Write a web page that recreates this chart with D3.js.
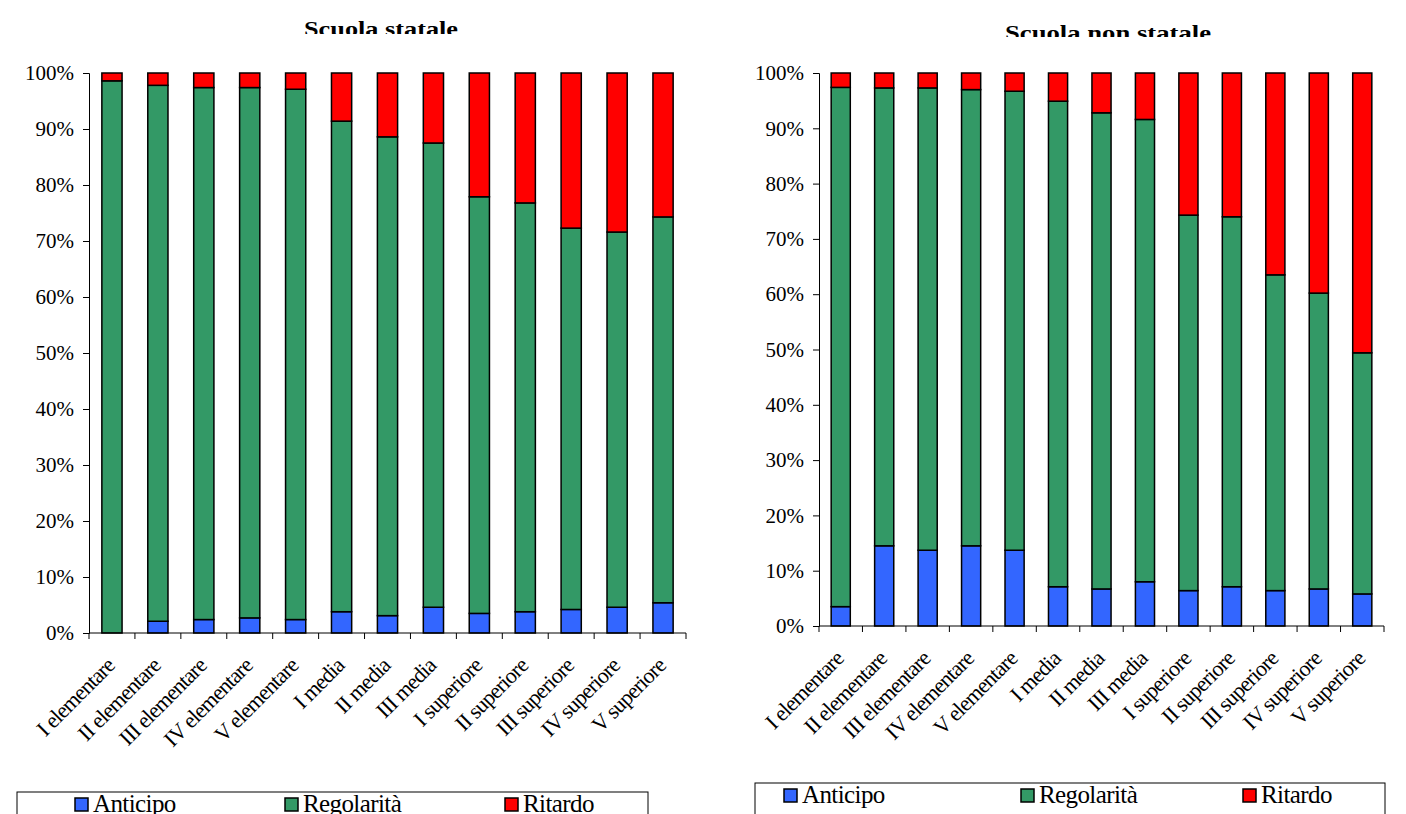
<!DOCTYPE html>
<html><head><meta charset="utf-8">
<script src="https://cdn.jsdelivr.net/npm/d3@7"></script>
<style>
body{margin:0;background:#fff;}
text{font-family:"Liberation Serif","DejaVu Serif",serif;fill:#000;}
</style></head>
<body><svg id="c" width="1406" height="814"></svg>
<script>
const categories = ["I elementare","II elementare","III elementare","IV elementare","V elementare","I media","II media","III media","I superiore","II superiore","III superiore","IV superiore","V superiore"];
const seriesNames = ["Anticipo","Regolarità","Ritardo"];
// Scuola statale
const statAnticipo = [0, 2.1, 2.4, 2.7, 2.4, 3.8, 3.1, 4.6, 3.5, 3.8, 4.2, 4.6, 5.4];
const statRegolaritaTop = [98.6, 97.8, 97.4, 97.4, 97.1, 91.4, 88.6, 87.5, 77.9, 76.8, 72.3, 71.6, 74.3];
// Scuola non statale
const nonAnticipo = [3.5, 14.5, 13.7, 14.5, 13.7, 7.1, 6.7, 8.0, 6.4, 7.1, 6.4, 6.7, 5.8];
const nonRegolaritaTop = [97.4, 97.3, 97.3, 97.0, 96.7, 94.9, 92.8, 91.6, 74.3, 74.0, 63.5, 60.2, 49.4];
const yTicks = [0,10,20,30,40,50,60,70,80,90,100];
const colors = ["#3366FF","#339966","#FF0000"];

const svg = d3.select("#c");

function chart(cfg){
  const g = svg.append("g");
  const x = d3.scaleBand().domain(categories).range([cfg.x0, cfg.x1]).paddingInner(0.56).paddingOuter(0.28);
  const xb = d3.scaleBand().domain(categories).range([cfg.x0, cfg.x1]);
  const y = d3.scaleLinear().domain([0,100]).range([cfg.y0, cfg.y1]);
  const rows = categories.map((c,i)=>({cat:c, Anticipo:cfg.ant[i], "Regolarità":cfg.reg[i]-cfg.ant[i], Ritardo:100-cfg.reg[i]}));
  const stacked = d3.stack().keys(seriesNames)(rows);
  g.selectAll("g.s").data(stacked).join("g").attr("fill",(d,i)=>colors[i])
    .selectAll("rect").data(d=>d).join("rect")
    .attr("x",d=>x(d.data.cat)).attr("width",x.bandwidth())
    .attr("y",d=>y(d[1])).attr("height",d=>Math.max(0,y(d[0])-y(d[1])))
    .attr("stroke","#000").attr("stroke-width",1.5);
  // y axis
  const ya = g.append("g").attr("transform",`translate(${cfg.x0},0)`)
    .call(d3.axisLeft(y).tickValues(yTicks).tickFormat(d=>d+"%").tickSize(6).tickPadding(9));
  ya.attr("font-family",null);
  ya.select(".domain").attr("stroke","#000");
  ya.selectAll(".tick line").attr("stroke","#000");
  ya.selectAll("text").style("font-size","21px").style("font-family","'Liberation Serif', serif");
  // x axis
  const xa = g.append("g").attr("transform",`translate(0,${cfg.y0})`);
  xa.append("line").attr("x1",cfg.x0).attr("x2",cfg.x1).attr("stroke","#000");
  xa.selectAll("line.t").data(categories.concat(["end"])).join("line").attr("class","t")
    .attr("x1",(d,i)=>i<categories.length?xb(d):cfg.x1).attr("x2",(d,i)=>i<categories.length?xb(d):cfg.x1)
    .attr("y1",0).attr("y2",6).attr("stroke","#000");
  xa.selectAll("text.lab").data(categories).join("text").attr("class","lab")
    .attr("transform",d=>`translate(${xb(d)+xb.bandwidth()/2+4},${34}) rotate(-45)`)
    .attr("text-anchor","end").style("font-size","22px").style("letter-spacing","-0.8px").text(d=>d);
  // title
  const clipId = "clip"+cfg.id;
  svg.append("clipPath").attr("id",clipId).append("rect").attr("x",cfg.titleX-200).attr("y",0).attr("width",400).attr("height",cfg.titleClip);
  g.append("text").attr("x",cfg.titleX).attr("y",cfg.titleY).attr("text-anchor","middle")
    .attr("clip-path",`url(#${clipId})`)
    .style("font-size","22px").style("font-weight","bold").attr("textLength",cfg.titleW).attr("lengthAdjust","spacingAndGlyphs").text(cfg.title);
  // legend
  const lg = g.append("g");
  lg.append("rect").attr("x",cfg.lx).attr("y",cfg.ly).attr("width",cfg.lw).attr("height",40).attr("fill","#fff").attr("stroke","#000");
  seriesNames.forEach((s,i)=>{
    lg.append("rect").attr("x",cfg.lItems[i]).attr("y",cfg.ly+6).attr("width",13).attr("height",13).attr("fill",colors[i]).attr("stroke","#000").attr("stroke-width",1.5);
    lg.append("text").attr("x",cfg.lItems[i]+18).attr("y",cfg.ly+20).style("font-size","25px").style("letter-spacing","-0.6px").text(s);
  });
}

chart({id:1,title:"Scuola statale",ant:statAnticipo,reg:statRegolaritaTop,x0:89,x1:686,y0:633,y1:73,
  titleX:381,titleY:36,titleW:154,titleClip:34,lx:17,ly:792,lw:631,lItems:[75,285,505]});
chart({id:2,title:"Scuola non statale",ant:nonAnticipo,reg:nonRegolaritaTop,x0:819,x1:1384,y0:626,y1:73,
  titleX:1108,titleY:40,titleW:206,titleClip:37,lx:755,ly:783,lw:630,lItems:[784,1021,1243]});
</script></body></html>
